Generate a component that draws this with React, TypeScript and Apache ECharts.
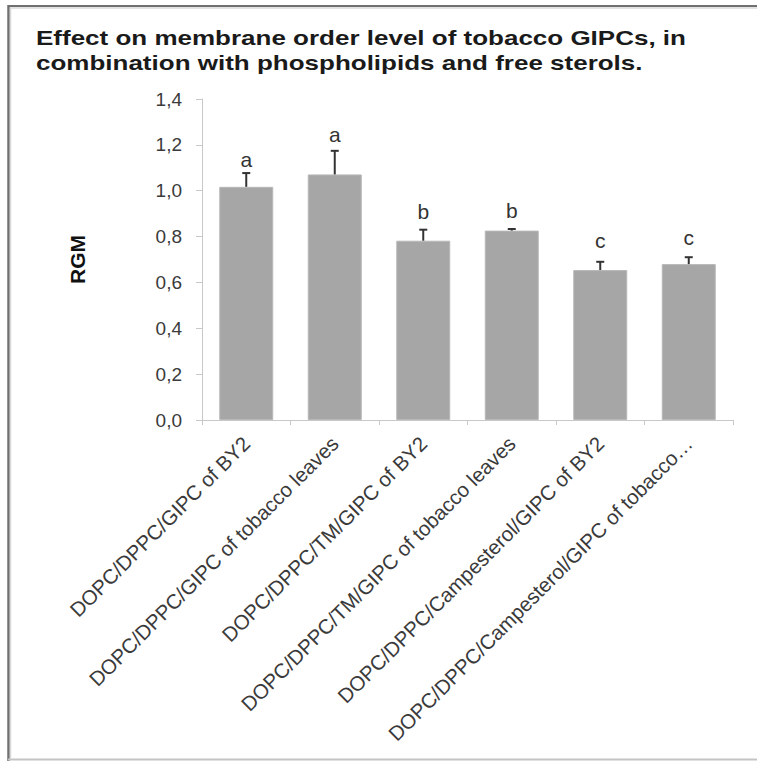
import React, { useEffect, useRef } from "react";
import * as echarts from "echarts";

const categories = [
  "DOPC/DPPC/GIPC of BY2",
  "DOPC/DPPC/GIPC of tobacco leaves",
  "DOPC/DPPC/TM/GIPC of BY2",
  "DOPC/DPPC/TM/GIPC of tobacco leaves",
  "DOPC/DPPC/Campesterol/GIPC of BY2",
  "DOPC/DPPC/Campesterol/GIPC of tobacco…",
];
const rgmValues = [1.017, 1.071, 0.782, 0.826, 0.654, 0.68];
const rgmErrors = [0.06, 0.103, 0.048, 0.007, 0.036, 0.03];
const letters = ["a", "a", "b", "b", "c", "c"];
const letterPositions = [1.134, 1.243, 0.908, 0.913, 0.781, 0.794];
const yTicks = [0, 0.2, 0.4, 0.6, 0.8, 1.0, 1.2, 1.4];
const titleLines = [
  "Effect on membrane order level of tobacco GIPCs, in",
  "combination with phospholipids and free sterols.",
];

const FONT = "'Liberation Sans', Arial, sans-serif";

export default function App() {
  const ref = useRef<HTMLDivElement>(null);
  useEffect(() => {
    if (!ref.current) return;
    const chart = echarts.init(ref.current, undefined, { renderer: "svg" });
    const errData = categories.map((_, i) => [i, rgmValues[i], rgmErrors[i], letterPositions[i]]);
    chart.setOption({
      animation: false,
      backgroundColor: "#ffffff",
      textStyle: { fontFamily: FONT },
      graphic: [
        { type: "line", shape: { x1: 8, y1: 6, x2: 757, y2: 6 }, style: { stroke: "#707070", lineWidth: 2 } },
        { type: "line", shape: { x1: 10, y1: 8, x2: 757, y2: 8 }, style: { stroke: "#d8d8d8", lineWidth: 1.5 } },
        { type: "line", shape: { x1: 8.5, y1: 5, x2: 8.5, y2: 761 }, style: { stroke: "#707070", lineWidth: 2.5 } },
        { type: "line", shape: { x1: 10.5, y1: 8, x2: 10.5, y2: 758 }, style: { stroke: "#d8d8d8", lineWidth: 1.5 } },
        { type: "line", shape: { x1: 8, y1: 759.5, x2: 757, y2: 759.5 }, style: { stroke: "#c4c4c4", lineWidth: 2 } },
        ...titleLines.map((t, k) => ({
          type: "text",
          x: 36,
          y: 38 + k * 25,
          scaleX: 1.3,
          style: {
            text: t,
            fontFamily: FONT,
            fontSize: 20,
            fontWeight: "bold",
            fill: "#1a1a1a",
            align: "left",
            verticalAlign: "middle",
          },
        })),
      ],
      grid: { left: 202, top: 99, width: 531, height: 321, containLabel: false },
      xAxis: {
        type: "category",
        data: categories,
        axisLine: { lineStyle: { color: "#c8c8c8", width: 1 } },
        axisTick: { show: true, length: 5, lineStyle: { color: "#c8c8c8" } },
        axisLabel: {
          rotate: 45,
          interval: 0,
          margin: 20,
          fontSize: 20.5,
          color: "#3a3a3a",
          fontFamily: FONT,
        },
        splitLine: { show: false },
      },
      yAxis: {
        type: "value",
        min: 0,
        max: 1.4,
        interval: 0.2,
        name: "RGM",
        nameLocation: "middle",
        nameRotate: 90,
        nameGap: 114,
        nameTextStyle: { fontSize: 21, fontWeight: "bold", color: "#111", fontFamily: FONT },
        axisLine: { show: true, lineStyle: { color: "#c8c8c8", width: 1 } },
        axisTick: { show: true, length: 6, lineStyle: { color: "#c8c8c8" } },
        axisLabel: {
          margin: 20,
          fontSize: 19,
          color: "#3a3a3a",
          fontFamily: FONT,
          formatter: (v: number) => {
            const t = yTicks.find((k) => Math.abs(k - v) < 1e-6);
            return (t !== undefined ? t : v).toFixed(1).replace(".", ",");
          },
        },
        splitLine: { show: false },
      },
      series: [
        {
          type: "bar",
          data: rgmValues,
          barWidth: "61%",
          itemStyle: { color: "#a6a6a6", borderColor: "#b8b8b8", borderWidth: 1 },
        },
        {
          type: "custom",
          data: errData,
          z: 10,
          renderItem: (params: any, api: any) => {
            const i = api.value(0);
            const v = api.value(1);
            const e = api.value(2);
            const lp = api.value(3);
            const base = api.coord([i, v]);
            const top = api.coord([i, v + e]);
            const lab = api.coord([i, lp]);
            const x = base[0];
            const cap = 4;
            return {
              type: "group",
              children: [
                { type: "line", shape: { x1: x, y1: base[1], x2: x, y2: top[1] }, style: { stroke: "#333", lineWidth: 2 } },
                { type: "line", shape: { x1: x - cap, y1: top[1], x2: x + cap, y2: top[1] }, style: { stroke: "#333", lineWidth: 2 } },
                {
                  type: "text",
                  x: lab[0],
                  y: lab[1],
                  style: {
                    text: letters[params.dataIndex],
                    fontSize: 21,
                    fontFamily: FONT,
                    fill: "#333",
                    align: "center",
                    verticalAlign: "middle",
                  },
                },
              ],
            };
          },
        },
      ],
    });
    return () => chart.dispose();
  }, []);
  return (
    <div
      ref={ref}
      style={{ position: "absolute", left: 0, top: 0, width: 757, height: 761 }}
    />
  );
}
